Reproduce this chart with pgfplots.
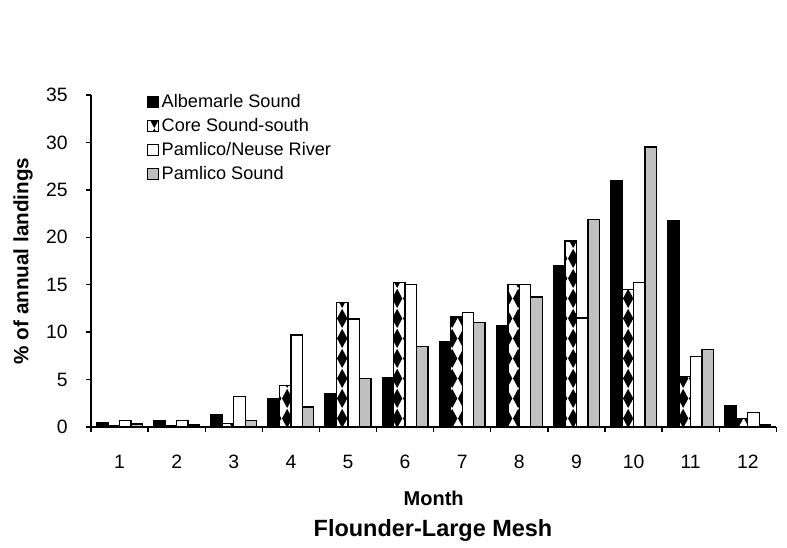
\documentclass[border=0pt]{standalone}
\usepackage{pgfplots}
\pgfplotsset{compat=1.18}
\usepackage{fontspec}
\setmainfont{Liberation Sans}
\usetikzlibrary{patterns}

% black diamonds on white, as in the Core Sound-south bars
\pgfdeclarepatternformonly{diamonds}{\pgfpointorigin}{\pgfpoint{8pt}{15pt}}{\pgfpoint{8pt}{15pt}}{
  \pgfpathmoveto{\pgfpoint{4pt}{0pt}}
  \pgfpathlineto{\pgfpoint{8pt}{7.5pt}}
  \pgfpathlineto{\pgfpoint{4pt}{15pt}}
  \pgfpathlineto{\pgfpoint{0pt}{7.5pt}}
  \pgfpathclose
  \pgfusepath{fill}
}

\definecolor{barGray}{RGB}{192,192,192}

\begin{document}
\begin{tikzpicture}
% page frame: 787 x 548 px at 0.75pt/px, axis corner at (91,427) px
\useasboundingbox (-68.25pt,-90.75pt) rectangle (522pt,320.25pt);
\begin{axis}[
    at={(0pt,0pt)}, anchor=south west,
    scale only axis,
    width=514pt, height=249pt,
    ybar=0pt,
    bar width=0.2,
    xmin=0.5, xmax=12.5,
    ymin=0, ymax=35,
    xtick={1,...,12},
    minor xtick={0.5,1.5,...,12.5},
    major x tick style={draw=none},
    ytick={0,5,...,35},
    tick align=outside,
    minor tick length=4pt,
    major tick length=4pt,
    axis lines*=left,
    axis line style={line width=1pt},
    tick style={line width=1pt, black},
    every tick label/.append style={font=\fontsize{14.5}{17}\selectfont},
    xticklabel style={anchor=base, yshift=-27.5pt},
    yticklabel style={xshift=-10pt},
    /pgf/number format/assume math mode=true,
    xlabel={\textbf{Month}},
    xlabel style={font=\fontsize{15}{17}\selectfont, at={(axis description cs:0.5,0)}, anchor=base, yshift=-59.25pt},
    ylabel={\textbf{\% of annual landings}},
    ylabel style={font=\fontsize{15.5}{18}\selectfont, at={(axis description cs:-0.099,0.5)}, anchor=center},
    legend style={draw=none, fill=none, at={(0.082,1.01)}, anchor=north west, inner sep=0pt,
        font=\fontsize{13.6}{16}\selectfont, row sep=2.6pt,
        /tikz/every even column/.append style={column sep=2pt}},
    legend cell align=left,
    legend image code/.code={\draw[#1, line width=0.7pt] (0pt,-4pt) rectangle (8pt,4pt);},
    every axis plot/.append style={draw=black, line width=1pt},
]
\addplot[draw=black, fill=black] coordinates {
 (1,0.45)(2,0.7)(3,1.35)(4,3.0)(5,3.5)(6,5.2)(7,9.0)(8,10.7)(9,17.0)(10,26.0)(11,21.7)(12,2.2)};
\addplot[draw=black, fill=white, pattern=diamonds, pattern color=black] coordinates {
 (1,0.1)(2,0.1)(3,0.4)(4,4.4)(5,13.1)(6,15.2)(7,11.6)(8,15.0)(9,19.6)(10,14.5)(11,5.3)(12,0.9)};
\addplot[draw=black, fill=white] coordinates {
 (1,0.7)(2,0.7)(3,3.2)(4,9.7)(5,11.4)(6,15.0)(7,12.1)(8,15.0)(9,11.5)(10,15.2)(11,7.4)(12,1.5)};
\addplot[draw=black, fill=barGray] coordinates {
 (1,0.3)(2,0.2)(3,0.7)(4,2.1)(5,5.1)(6,8.5)(7,11.0)(8,13.7)(9,21.9)(10,29.5)(11,8.2)(12,0.2)};
\legend{Albemarle Sound, Core Sound-south, Pamlico/Neuse River, Pamlico Sound}
\end{axis}
\node[font=\bfseries\fontsize{17.6}{20}\selectfont, anchor=base] at (256.5pt,-82.4pt) {Flounder-Large Mesh};
\end{tikzpicture}
\end{document}
